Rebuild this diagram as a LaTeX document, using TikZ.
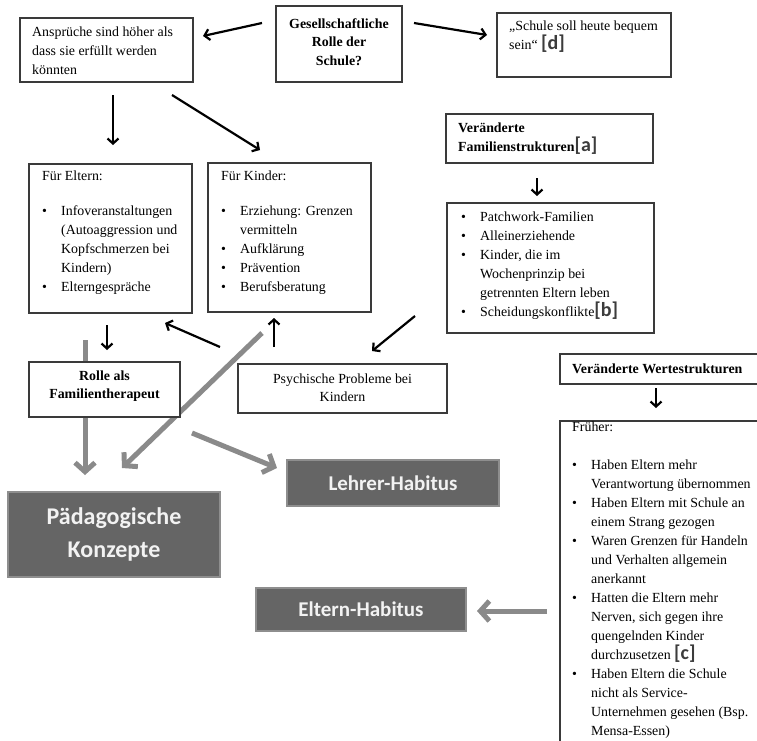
\documentclass[tikz,border=0pt]{standalone}
\usepackage{fontspec}
\setmainfont{Liberation Serif}
\newfontfamily\carl{Carlito}
\usetikzlibrary{arrows.meta}
\definecolor{boxline}{HTML}{3A3A3A}
\definecolor{darkfill}{HTML}{656565}
\definecolor{darkline}{HTML}{8E8E8E}
\definecolor{grayarrow}{HTML}{8A8A8A}
\definecolor{tagcol}{HTML}{3C3C3C}
\newcommand{\mytag}[1]{{\carl\bfseries\fontsize{20}{19}\selectfont\textcolor{tagcol}{[#1]}}}
\newcommand{\bl}{\makebox[19pt][l]{\textbullet}}
\newcommand{\ind}{\makebox[19pt]{}}
\begin{document}
\begin{tikzpicture}[x=1pt,y=-1pt,
  wbox/.style={draw=boxline, line width=1.1pt, fill=white, inner sep=0pt, outer sep=0pt, anchor=north west},
  dbox/.style={draw=darkline, line width=2.5pt, fill=darkfill, inner sep=0pt, outer sep=0pt, anchor=north west, text=white!95!black, align=center},
  txt/.style={inner sep=0pt, anchor=base west, align=left, font=\fontsize{13.9}{19}\selectfont},
  ctxt/.style={inner sep=0pt, anchor=base, align=center, font=\fontsize{13.9}{18.5}\selectfont},
  arr/.style={line width=2.2pt, -{Straight Barb[length=5pt,width=11pt]}},
  garr/.style={draw=grayarrow, line width=5pt, -{Straight Barb[length=9pt,width=20pt]}},
]
\useasboundingbox (0,0) rectangle (757,740);
\clip (0,0) rectangle (757,740);
\fill[white] (0,0) rectangle (757,740);

% arrow end points
\coordinate (g1s) at (85,340);  \coordinate (g1e) at (85,475);
\coordinate (g2s) at (262,333); \coordinate (g2e) at (122,468);
\coordinate (g3s) at (192,433); \coordinate (g3e) at (277,468);
\coordinate (g4s) at (547,611); \coordinate (g4e) at (477,611);

% gray arrows (behind boxes)
\draw[garr] (g1s) -- (g1e);
\draw[garr] (g2s) -- (g2e);
\draw[garr] (g3s) -- (g3e);
\draw[garr] (g4s) -- (g4e);

% white boxes
\node[wbox, minimum width=173pt, minimum height=64pt] (ansp) at (20,18) {};
\node[wbox, minimum width=126pt, minimum height=76pt] (ges) at (276,6) {};
\node[wbox, minimum width=174pt, minimum height=64pt] (schule) at (497,13) {};
\node[wbox, minimum width=207pt, minimum height=49pt] (fam) at (446,114) {};
\node[wbox, minimum width=207pt, minimum height=130pt] (patch) at (447,203) {};
\node[wbox, minimum width=163pt, minimum height=149pt] (eltern) at (29,164) {};
\node[wbox, minimum width=163pt, minimum height=149pt] (kinder) at (208,163) {};
\node[wbox, minimum width=151pt, minimum height=55pt] (rolle) at (29,362) {};
\node[wbox, minimum width=209pt, minimum height=49pt] (psych) at (238,364) {};
\node[wbox, minimum width=210pt, minimum height=30pt] (wert) at (560,354) {};
\node[wbox, minimum width=210pt, minimum height=330pt] (frueher) at (560,421) {};

% dark boxes
\node[dbox, minimum width=212pt, minimum height=85pt, font=\carl\bfseries\fontsize{24}{33}\selectfont] (paed) at (8,492) {Pädagogische\\Konzepte};
\node[dbox, minimum width=212pt, minimum height=46pt, font=\carl\bfseries\fontsize{21}{24}\selectfont] (lehrer) at (287,460) {Lehrer-Habitus};
\node[dbox, minimum width=210pt, minimum height=43pt, font=\carl\bfseries\fontsize{21}{24}\selectfont] (elh) at (256,588) {Eltern-Habitus};

% texts (anchor = baseline of the last line)
\node[txt] (t-ansp) at (32,74) {Ansprüche sind höher als\\dass sie erfüllt werden\\könnten};
\node[ctxt, font=\bfseries\fontsize{13.9}{18.5}\selectfont] (t-ges) at (339,65) {Gesellschaftliche\\Rolle der\\Schule?};
\node[txt] (t-schule) at (509,49) {„Schule soll heute bequem\\sein“ \mytag{d}};
\node[txt, font=\bfseries\fontsize{13.9}{19}\selectfont] (t-fam) at (458,151) {Veränderte\\Familienstrukturen\mytag{a}};
\node[txt] (t-patch) at (461,316) {\bl Patchwork-Familien\\ \bl Alleinerziehende\\ \bl Kinder, die im\\ \ind Wochenprinzip bei\\ \ind getrennten Eltern leben\\ \bl Scheidungskonflikte\mytag{b}};
\node[txt] (t-eltern) at (42,291) {Für Eltern:\\[16pt] \bl Infoveranstaltungen\\ \ind (Autoaggression und\\ \ind Kopfschmerzen bei\\ \ind Kindern)\\ \bl Elterngespräche};
\node[txt] (t-kinder) at (221,291) {Für Kinder:\\[16pt] \bl Erziehung: Grenzen\\ \ind vermitteln\\ \bl Aufklärung\\ \bl Prävention\\ \bl Berufsberatung};
\node[ctxt, font=\bfseries\fontsize{13.9}{18}\selectfont] (t-rolle) at (104.5,398) {Rolle als\\Familientherapeut};
\node[ctxt] (t-psych) at (342.5,401.5) {Psychische Probleme bei\\Kindern};
\node[txt, font=\bfseries\fontsize{13.9}{19}\selectfont] (t-wert) at (572,373) {Veränderte Wertestrukturen};
\node[txt, font=\fontsize{13.9}{19}\selectfont] (t-frueher) at (572,735) {Früher:\\[19pt] \bl Haben Eltern mehr\\ \ind Verantwortung übernommen\\ \bl Haben Eltern mit Schule an\\ \ind einem Strang gezogen\\ \bl Waren Grenzen für Handeln\\ \ind und Verhalten allgemein\\ \ind anerkannt\\ \bl Hatten die Eltern mehr\\ \ind Nerven, sich gegen ihre\\ \ind quengelnden Kinder\\ \ind durchzusetzen \mytag{c}\\ \bl Haben Eltern die Schule\\ \ind nicht als Service-\\ \ind Unternehmen gesehen (Bsp.\\ \ind Mensa-Essen)};

% black arrows
\coordinate (a1s) at (262,23);  \coordinate (a1e) at (203,36);
\coordinate (a2s) at (414,23);  \coordinate (a2e) at (487,35);
\coordinate (a3s) at (113,95);  \coordinate (a3e) at (113,145);
\coordinate (a4s) at (172,95);  \coordinate (a4e) at (260,150);
\coordinate (a5s) at (537,178); \coordinate (a5e) at (537,196);
\coordinate (a6s) at (415,316); \coordinate (a6e) at (372,351);
\coordinate (a7s) at (220,347); \coordinate (a7e) at (165,323);
\coordinate (a8s) at (274,347); \coordinate (a8e) at (274,318);
\coordinate (a9s) at (107,325); \coordinate (a9e) at (107,350);
\coordinate (a10s) at (656,388); \coordinate (a10e) at (656,408);
\draw[arr] (a1s) -- (a1e);
\draw[arr] (a2s) -- (a2e);
\draw[arr] (a3s) -- (a3e);
\draw[arr] (a4s) -- (a4e);
\draw[arr] (a5s) -- (a5e);
\draw[arr] (a6s) -- (a6e);
\draw[arr] (a7s) -- (a7e);
\draw[arr] (a8s) -- (a8e);
\draw[arr] (a9s) -- (a9e);
\draw[arr] (a10s) -- (a10e);
\end{tikzpicture}
\end{document}
